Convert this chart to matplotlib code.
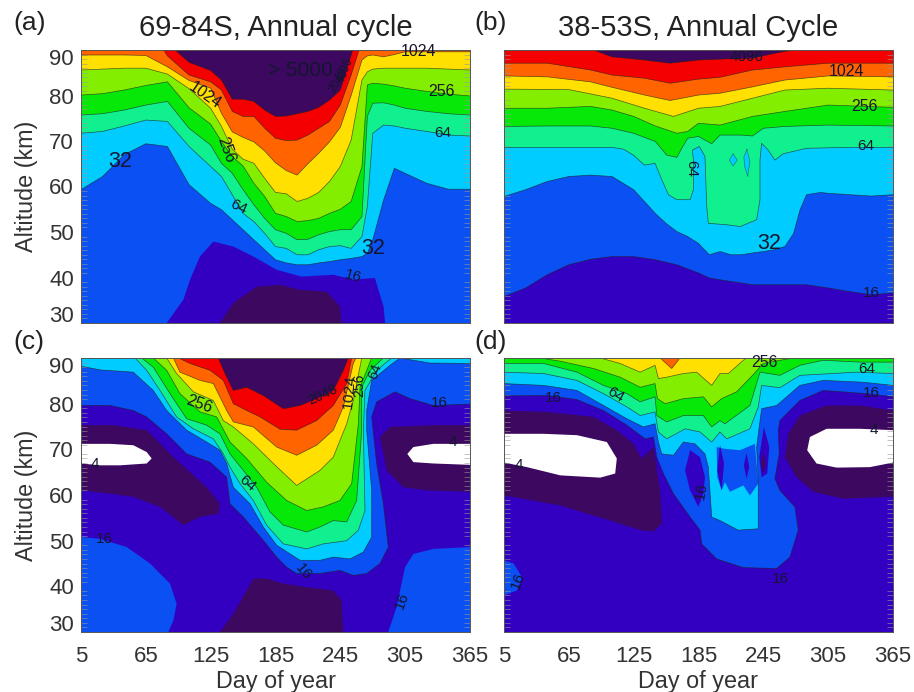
# -*- coding: utf-8 -*-
import matplotlib
matplotlib.use("Agg")
import matplotlib.pyplot as plt
from matplotlib.transforms import ScaledTranslation

plt.rcParams['font.family'] = ['Liberation Sans', 'DejaVu Sans']

# couleurs par tranche de valeur
PURPLE = "#3c0860"
INDIGO = "#3300c2"
BLUE = "#0a50f2"
CYAN = "#00ccff"
SPRING = "#10f08e"
GREEN = "#05e808"
LIME = "#84ee00"
YELLOW = "#ffe000"
ORANGE = "#ff6400"
RED = "#f40000"

DAY_TICKS = [5, 65, 125, 185, 245, 305, 365]
ALT_TICKS = [30, 40, 50, 60, 70, 80, 90]

# ------------------------ panel (a)
A_DAYS = [5, 25, 45, 65, 85, 105, 125, 135, 145, 155, 165, 175, 185, 195, 205, 215, 225, 235, 245, 255, 265, 270, 275, 285, 295, 305, 325, 345, 365]
a_32 = [59.3, 62.2, 67, 69.4, 68.8, 60.4, 56.3, 54.9, 52.7, 50.5, 48.3, 46.1, 43.9, 43.2, 42.8, 42.8, 43.2, 43.5, 43.9, 44.2, 44.6, 45.3, 48.3, 57, 64, 62.9, 60.7, 59.4, 59.4]
a_64 = [71.7, 72.1, 73.3, 74.6, 74.3, 68.8, 64.4, 62.2, 58.2, 54.1, 52.3, 49.7, 46.8, 46.4, 45, 45, 46.1, 46.8, 47, 46.4, 49, 55.6, 71.7, 73.5, 73.3, 72.8, 72.1, 71.3, 71.1]
a_128 = [75.7, 76, 76.8, 77.9, 78.7, 72.8, 69.1, 65.1, 62.9, 59.3, 56, 53, 50.5, 49.7, 48.3, 48.4, 49.4, 50.1, 50.5, 50.5, 53.4, 75.4, 78.3, 78.4, 77.9, 77.2, 76.5, 76, 75.7]
a_256 = [80.1, 80.4, 81.2, 82.2, 83, 77.3, 73.7, 69.9, 66.6, 64.5, 60.7, 57.8, 54.1, 53.4, 52.3, 52.5, 53, 54.1, 55, 56.7, 64.4, 82.3, 82.7, 82.5, 82.1, 81.6, 80.9, 80.3, 79.9]
a_512 = [85.6, 85.8, 86, 86, 84.7, 81.5, 77.2, 73.2, 68.2, 66, 65.1, 61.8, 58.7, 58.4, 56.7, 57.4, 58.7, 61.1, 64.4, 70.2, 83.4, 85.2, 85.8, 86, 86, 86, 86, 85.8, 85.6]
a_1024 = [88.9, 88.9, 88.9, 88.8, 86.3, 83.3, 81.6, 76.1, 72, 70.8, 69.8, 67.8, 65.2, 63.5, 62.5, 65, 67.3, 69.8, 73, 80, 87.8, 88.7, 88.9, 88.5, 89, 89.6, 89.6, 89.6, 89.6]
a_2048 = [96, 96, 96, 96, 88.7, 84.5, 83, 81.2, 76.5, 75.4, 75.4, 72.8, 70.6, 70.1, 70.2, 71.3, 72.8, 74.3, 77.9, 84.5, 92, 96, 96, 96, 96, 96, 96, 96, 96]
a_4096 = [96, 96, 96, 96, 91.5, 87.3, 85.5, 83.4, 79.2, 79.2, 78.7, 76.8, 75.4, 75.5, 76, 76.5, 77.4, 79, 81.2, 88.9, 96, 96, 96, 96, 96, 96, 96, 96, 96]
a_8_days = [84.3, 99.7, 105.9, 115, 127.5, 146, 164.5, 186, 209, 238.5, 257, 277, 285, 286.4]
a_8_alts = [30, 35.1, 39.5, 44.6, 47.9, 46.8, 44.6, 41.7, 40.2, 40.6, 39.5, 39.9, 33.6, 30]
a_low_days = [133.6, 146, 167.6, 189, 207.7, 232.4, 244.7, 246.2]
a_low_alts = [30, 34.4, 38, 38.4, 37.3, 36.9, 33.6, 30]

# ------------------------ panel (b)
b_16_days = [5, 25, 45, 65, 85, 105, 125, 145, 165, 185, 195, 205, 235, 285, 305, 325, 345, 365]
b_16_alts = [35.8, 37.7, 40.6, 42.8, 44, 44.6, 44.6, 43.9, 42.8, 41, 39.9, 39.5, 38.4, 38.4, 37.7, 36.9, 36.2, 36.6]
b_32_days = [5, 25, 45, 65, 85, 105, 125, 135, 145, 155, 165, 175, 185, 195, 205, 215, 225, 235, 245, 255, 265, 273, 279, 285, 298, 305, 325, 345, 365]
b_32_alts = [57.8, 59.3, 61.1, 62.2, 62.5, 62.2, 59.3, 56.7, 54.1, 51.9, 50.1, 49, 47.5, 45, 45.7, 45, 45, 45.4, 45.7, 46.1, 46.8, 49.7, 54.9, 58.2, 58.7, 58.5, 58.2, 57.9, 58.2]
b_64_days = [5, 25, 65, 105, 115.6, 124.8, 135, 144.8, 151, 157.2, 164.9, 177.2, 180.3, 180.3, 179.3, 185.8, 191, 192.6, 194.1, 211, 223.4, 238.8, 241.9, 241.9, 243.4, 249.6, 255.7, 263.4, 285, 325, 365]
b_64_alts = [68.6, 68.6, 68.6, 68.6, 68.2, 66.9, 64.7, 65.1, 61.5, 58.2, 57.1, 57.1, 59.3, 65.8, 68, 68.8, 66.6, 55.6, 51.9, 51.6, 51.2, 52.7, 57.1, 65.8, 69.5, 68, 65.8, 67.2, 68.4, 68.6, 68.6]
b_isle1_days = [217, 220.9, 217, 213.5]
b_isle1_alts = [67.2, 65.8, 64.5, 65.8]
b_isle2_days = [229.8, 232.6, 230.5, 227.6, 227]
b_isle2_alts = [68.2, 65.5, 62.2, 64.5, 66.5]
b_128_days = [5, 45, 85, 105, 125, 145, 155.6, 165, 169.5, 175, 185, 191, 197.2, 205, 225, 235, 245, 265, 305, 365]
b_128_alts = [73.2, 73.3, 73.3, 72.8, 71.7, 69.9, 66.9, 66.4, 68.4, 70.6, 71, 70.2, 69.4, 71.3, 71.3, 71.1, 72.8, 73.2, 73.5, 73.3]
b_256_days = [5, 45, 85, 105, 125, 145, 165, 175, 185, 205, 235, 265, 305, 365]
b_256_alts = [77.2, 77.2, 77.6, 76.8, 75.4, 73.3, 71.7, 72.1, 73.9, 73.5, 75.4, 76.5, 77.9, 77.4]
b_512_days = [5, 65, 105, 135, 161.8, 185, 205, 235, 265, 305, 365]
b_512_alts = [81.4, 81.3, 79.4, 77.2, 75.4, 77.2, 77.6, 79.4, 81.2, 81.6, 81.2]
b_1024_days = [5, 45, 85, 105, 135, 158.7, 185, 205, 235, 265, 305, 365]
b_1024_alts = [84.3, 84.1, 83, 81.8, 80.1, 78.9, 80.1, 80.5, 81.9, 83.4, 84.3, 84.1]
b_2048_days = [5, 45, 85, 105, 135, 158.7, 185, 205, 235, 265, 305, 365]
b_2048_alts = [87.1, 87.1, 85.6, 84.5, 83.8, 82.7, 83.6, 84, 85.6, 86.3, 87.1, 87.1]
b_4096_days = [88, 105, 135, 158.7, 185, 205, 235, 255.7, 272.7]
b_4096_alts = [90, 88.5, 87.8, 87.1, 87.8, 88, 88.2, 89.3, 90]

# ------------------------ panel (c)
c_blob1_days = [5, 22.6, 47.3, 68.9, 87.4, 93.5, 90.5, 85.8, 5]
c_blob1_alts = [50.8, 50.4, 48.6, 45, 40.6, 36.2, 32.5, 30, 30]
c_blob2_days = [289.4, 297.1, 304.9, 312.6, 331.1, 365, 365]
c_blob2_alts = [30, 35.5, 44.2, 47.1, 48.2, 48.6, 30]
c_low_days = [133.6, 146, 164.5, 176.8, 192.3, 213.9, 238.5, 246.2, 247.8]
c_low_alts = [30, 34, 41.7, 41.7, 40.6, 39.8, 39.1, 36.9, 30]
c_dark1_days = [5, 34.9, 65.8, 90.5, 121.3, 133.6, 132.1, 115.1, 99.7, 78.1, 53.4, 31.8, 5]
c_dark1_alts = [75.3, 75.3, 74.2, 68.3, 61.7, 58.1, 55.9, 55.2, 53.4, 57.4, 59.6, 60.3, 61]
c_white1_days = [5, 31.8, 53.4, 65.8, 70.4, 65.8, 41.1, 22.6, 5]
c_white1_alts = [71.2, 71.2, 70.9, 69.4, 68, 66.9, 66.5, 66.5, 66.9]
c_dark2_days = [365, 331.1, 291, 281.7, 287.9, 303.3, 324.9, 365]
c_dark2_alts = [75.3, 75.3, 74.9, 72.7, 65.4, 61.7, 61, 60.7]
c_white2_days = [365, 331.1, 312.6, 307, 312.6, 331.1, 365]
c_white2_alts = [71.2, 71.2, 70.5, 69, 67.2, 66.9, 66.6]
c_16_days = [5, 31.8, 53.4, 65.8, 84.3, 102.8, 124.4, 139.8, 142.9, 155.2, 173.7, 186.1, 195.3, 204.6, 226.2, 244.7, 257, 269.4, 281.7, 289.4, 284.8, 278.6, 274, 278.6, 295.6, 309.5, 331.1, 365]
c_16_alts = [79.6, 79.6, 78.5, 77.1, 73.4, 69, 67.2, 63.9, 58.1, 55.2, 50.1, 46.4, 44.2, 42.8, 42.8, 43.5, 42.4, 42.8, 45, 48.6, 58.1, 66.9, 77.1, 80.4, 82.6, 81.1, 79.6, 79.9]
c_32_days = [5, 22.6, 53.4, 71.9, 84.3, 102.8, 121.3, 133.6, 139.8, 146, 161.4, 173.7, 186.1, 207.7, 226.2, 238.5, 254, 266.3, 274, 274, 269.4, 269.4, 274, 291, 300.2, 328, 365]
c_32_alts = [88.2, 87.4, 86.9, 82.9, 78.5, 74.2, 71.6, 69.8, 66.9, 61.7, 58.1, 53, 49, 45.7, 45.7, 46.4, 46, 47.5, 50.8, 61, 74.2, 78.5, 85.1, 88.4, 90, 88.9, 88.8]
c_64_days = [55, 65.8, 78.1, 93.5, 109, 127.5, 136.7, 142.9, 152.2, 164.5, 176.8, 192.3, 213.9, 229.3, 250.9, 261.7, 267.8, 266.3, 267.8, 278.6, 292.5]
c_64_alts = [90, 87.3, 82.9, 77.1, 74.5, 72.3, 69, 66.1, 62.5, 58.8, 53.4, 49.3, 48.2, 49.3, 50, 52.3, 56.6, 74.2, 82.9, 87.3, 90]
c_128_days = [61.1, 71.9, 87.4, 102.8, 121.3, 133.6, 142.9, 155.2, 167.6, 179.9, 192.3, 213.9, 226.2, 238.5, 250.9, 260.1, 264.8, 264.8, 272.5, 284.8]
c_128_alts = [90, 88, 82.2, 76.7, 75.3, 73.4, 69, 65.4, 61.7, 56.3, 53.4, 51.9, 53, 54.4, 54.1, 58.8, 74.2, 83.6, 87.3, 90]
c_256_days = [71.9, 84.3, 96.6, 115.1, 130.6, 142.9, 158.3, 176.8, 195.3, 213.9, 229.3, 244.7, 255.5, 261.7, 263.2, 274]
c_256_alts = [90, 87.3, 82.2, 78.2, 77.1, 71.6, 68, 62.8, 58.8, 56.6, 57.4, 58.8, 62.5, 75.6, 83.6, 90]
c_512_days = [84.3, 93.5, 109, 127.5, 136.7, 146, 164.5, 183, 204.6, 226.2, 238.5, 250.9, 257, 264.8]
c_512_alts = [90, 86.6, 82.6, 80.7, 76.3, 74.9, 71.2, 66.9, 62.1, 65.4, 68.3, 75.6, 80.7, 90]
c_1024_days = [90.5, 96.6, 115.1, 127.5, 139.8, 146, 164.5, 186.1, 204.6, 223.1, 238.5, 247.8, 257, 259.5]
c_1024_alts = [90, 86.9, 85.1, 84.4, 78.5, 76, 74.9, 70.5, 68.7, 70.9, 74.2, 79.3, 88.8, 90]
c_2048_days = [95.1, 105.9, 124.4, 136.7, 146, 158.3, 170.7, 189.2, 204.6, 223.1, 238.5, 250.9, 255.5]
c_2048_alts = [90, 88.8, 87.3, 85.1, 80, 78.5, 77.1, 74.4, 74.2, 76.3, 79.6, 84.4, 90]
c_4096_days = [132.1, 138.3, 146, 158.3, 173.7, 192.3, 207.7, 223.1, 238.5, 247.8, 252.4]
c_4096_alts = [90, 86.6, 82.9, 83.6, 81.8, 78.9, 79.6, 81.1, 82.9, 87.3, 90]

# ------------------------ panel (d)
d_blob_days = [5, 13.9, 21.6, 17, 5]
d_blob_alts = [45.7, 45, 42, 39.1, 38]
d_dark1_days = [5, 44.7, 87.9, 109.4, 124.8, 132.5, 143.3, 149.5, 151, 143.3, 131, 103.3, 57.1, 5]
d_dark1_alts = [78.5, 78.2, 77.1, 74.2, 71.2, 68, 70.5, 61, 53.7, 52, 52.3, 54.4, 57.7, 59.9]
d_white1_days = [5, 41.7, 72.5, 100.2, 109.4, 107.9, 94, 57.1, 26.3, 5]
d_white1_alts = [73.4, 73.4, 73.1, 71.6, 68, 64.7, 63.8, 64.3, 66.1, 67.1]
d_dark2_days = [365, 334.3, 303.5, 278.8, 268, 265, 275.7, 291.1, 318.9, 365]
d_dark2_alts = [78.5, 79.6, 79.6, 77.4, 73.4, 68.3, 63.9, 60.7, 59.2, 59.6]
d_white2_days = [365, 334.3, 303.5, 288.1, 285.6, 294.2, 312.7, 343.5, 365]
d_white2_alts = [74.2, 74.5, 74.5, 72.7, 69.8, 66.9, 66, 66.1, 67.1]
d_16_days = [5, 44.7, 72.5, 97.1, 118.7, 135.6, 143.3, 146.4, 152.5, 161.8, 177.2, 186.4, 188, 201.8, 226.5, 257.3, 269.6, 277.3, 274.2, 260.3, 255.7, 259.7, 258.8, 260.3, 278.8, 300.4, 340.4, 365]
d_16_alts = [81.7, 81.8, 80.9, 78.5, 75.3, 72.3, 72.7, 68.3, 64.7, 60.3, 55.2, 52.3, 49.3, 46, 44.1, 43.9, 46.4, 52.3, 57.4, 61, 63.6, 69, 74.2, 76.3, 80.7, 82.9, 82.2, 81.5]
d_32_days = [5, 41.7, 72.5, 97.1, 118.7, 134, 144.8, 147.9, 151, 161.8, 171, 181.8, 191, 194.1, 197.2, 204.9, 221.8, 240.3, 240.3, 238.8, 243.4, 257.3, 278.8, 300.4, 337.3, 365]
d_32_alts = [84.4, 84, 82.9, 79.6, 76.7, 74.9, 75.6, 71.6, 69, 68.7, 71.6, 71.2, 69, 66.1, 55.2, 54.4, 52.3, 52.6, 62.5, 70.5, 78.9, 79.6, 84, 85.1, 84.7, 84]
d_pocket_days = [201.8, 209.5, 223.4, 237.2, 240.3, 232.6, 226.5, 214.1, 209.5, 206.4, 202.4]
d_pocket_alts = [70.5, 70.1, 69.8, 71.2, 62.5, 59.9, 62.1, 60.7, 62.8, 61, 63.9]
d_oval_days = [177.2, 186.4, 191, 189.5, 184.9, 177.2, 172.6]
d_oval_alts = [69.8, 68.3, 63.9, 60.3, 57.4, 61, 65.4]
d_spike1_days = [204.9, 208.6, 206.4, 202.4]
d_spike1_alts = [70.9, 66.9, 61, 65.4]
d_spike2_days = [229.5, 231.9, 229.5, 227]
d_spike2_alts = [69.2, 66.1, 63.6, 66.5]
d_spike3_days = [245.5, 250.5, 248.6, 243.4, 241.2]
d_spike3_alts = [74.9, 70.5, 64.7, 63.9, 68.3]
d_spike4_days = [245, 247.2, 244.9, 243]
d_spike4_alts = [69.4, 66.9, 64.7, 66.9]
d_64_days = [5, 41.7, 72.5, 97.1, 118.7, 131, 144.8, 147.9, 155.6, 172.6, 186.4, 197.2, 204.9, 211.1, 232.6, 240.3, 243.4, 260.3, 278.8, 331.2, 365]
d_64_alts = [86.9, 86.6, 85.1, 82.2, 79.3, 77.4, 78.2, 73.8, 72.3, 74.5, 73.8, 71.6, 73.8, 72.3, 74.5, 79.3, 84, 83.5, 86.2, 86.9, 86.6]
d_128_days = [5, 41.7, 72.5, 97.1, 118.7, 131, 144.8, 146.4, 155.6, 171, 189.5, 197.2, 204.9, 209.5, 232.6, 241.9, 260.3, 278.8, 300.4, 334.3, 365]
d_128_alts = [88.8, 88.8, 86.9, 84, 82.2, 80.4, 81.5, 77.4, 76, 77.4, 77.4, 74.9, 76.3, 75.6, 79.6, 86.9, 86.2, 88.4, 89.5, 89.1, 89.1]
d_256_days = [38.6, 57, 87.9, 112.5, 131, 144.8, 147, 154.1, 171, 189.5, 197.2, 206.4, 220.3, 235, 244.9, 260.3, 272.7]
d_256_alts = [90, 89.3, 87.7, 85.8, 83.6, 84.4, 81.1, 80, 81.1, 81.5, 79.3, 81.1, 82.6, 86.2, 88.8, 89.5, 90]
d_512_days = [94, 112.5, 131, 144.8, 147.9, 155.6, 171, 183.3, 197.2, 204.9, 212.6, 226.5, 229.5]
d_512_alts = [90, 88.8, 86.9, 88.4, 85.5, 85.8, 86.6, 86.9, 84, 86.6, 86.6, 89.5, 90]
d_1024_days = [149.5, 160.2, 167.9]
d_1024_alts = [90, 87.7, 90]

# libelles (texte, jour, altitude, rotation, taille)
a_labels = [("> 5000", 208, 85.6, 0, 15), ("1024", 317, 89.6, 0, 11.5), ("1024", 120, 80.1, -35, 11.5),
            ("2048", 243, 83.4, 60, 8.5), ("4096", 250, 85.5, 70, 8.5), ("256", 339, 80.8, 0, 11.5),
            ("256", 139, 68, -70, 11.5), ("64", 340, 71.7, 0, 11), ("64", 151, 55.6, -25, 11),
            ("32", 41, 65.6, 0, 15.5), ("32", 275.5, 46.4, 0, 15.5), ("16", 257, 40.2, -15, 11)]
b_labels = [("4096", 229.5, 88.5, 0, 11), ("1024", 322, 85.2, 0, 11.5), ("256", 339, 77.6, 0, 11.5),
            ("64", 340, 69, 0, 11), ("64", 178, 64, -90, 11), ("32", 250, 47.5, 0, 15.5),
            ("16", 345, 36.7, 0, 11)]
c_labels = [("256", 114, 79.9, -20, 11.5), ("64", 159, 62.6, -40, 11), ("16", 210.8, 43.1, -50, 11),
            ("16", 27, 50.3, 0, 11), ("16", 337, 80.1, 0, 11), ("16", 302, 36.9, 70, 11),
            ("4", 18, 66.7, 0, 11), ("4", 349, 71.6, 0, 11), ("1024", 253, 82.6, 85, 11),
            ("2048", 229, 82, 25, 10), ("256", 262.6, 84, 90, 10), ("64", 277, 87, 70, 10)]
d_labels = [("16", 51, 81.2, 0, 11), ("64", 108, 82, -30, 11), ("256", 246.5, 89, 0, 11.5),
            ("64", 341, 87.7, 0, 11), ("16", 345, 82.3, 0, 11), ("4", 347, 74.2, 0, 11),
            ("4", 18.5, 66.6, 0, 11), ("16", 188, 60.8, 80, 11), ("16", 261, 41.6, 0, 11),
            ("16", 17.6, 41.3, 70, 11)]


def new_axes(fig, x0, y0, x1, y1, background):
    W, H = 914.0, 692.0
    ax = fig.add_axes([x0/W, 1 - y1/H, (x1-x0)/W, (y1-y0)/H])
    ax.set_facecolor(background)
    ax.set_xlim(5, 365)
    ax.set_ylim(30, 90)
    ax.set_xticks(DAY_TICKS)
    ax.set_yticks(ALT_TICKS)
    ax.set_yticks(range(30, 91), minor=True)
    ax.tick_params(axis='x', length=0, labelsize=16, pad=10, labelbottom=False)
    ax.tick_params(axis='y', length=0, labelsize=16, pad=5, labelleft=False)
    ax.tick_params(axis='y', which='minor', direction='in', length=4, width=0.4, color="#999999", right=True)
    for s in ax.spines.values():
        s.set_linewidth(0.7)
        s.set_color("#555555")
    return ax


def above(ax, days, alts, color):
    """ remplit la zone au dessus de la courbe, jusqu'en haut du panneau """
    ax.fill(list(days) + [days[-1], days[0]], list(alts) + [97, 97], color=color, lw=0)
    ax.plot(days, alts, color="#202020", lw=0.5, alpha=0.7)


def blob(ax, days, alts, color, line=False):
    ax.fill(days, alts, color=color, lw=0)
    if line:
        ax.plot(list(days) + [days[0]], list(alts) + [alts[0]], color="#202020", lw=0.4, alpha=0.6)


def labels(ax, items):
    for txt, day, alt, rot, size in items:
        ax.text(day, alt, txt, fontsize=size, rotation=rot, ha='center', va='center',
                color="#151530", clip_on=False)


def axis_text(ax, letter, title=None, left=False, bottom=False):
    # la lettre est plus pres du panneau sur la ligne du bas
    ax.text(-0.175 if left else -0.075, 1.06 if bottom else 1.10, letter, transform=ax.transAxes,
            fontsize=19, color="#222222", va='center')
    if title:
        ax.text(0.5, 1.08, title, transform=ax.transAxes, fontsize=21, color="#222222",
                ha='center', va='center')
    if left:
        ax.tick_params(axis='y', labelleft=True, labelcolor="#333333")
        for lab, val in zip(ax.get_yticklabels(), ALT_TICKS):
            # les deux valeurs extremes sont ramenees vers l'interieur
            if val == 90:
                lab.set_verticalalignment('top')
                lab.set_transform(lab.get_transform() + ScaledTranslation(0, 1/72, fig.dpi_scale_trans))
            elif val == 30:
                lab.set_verticalalignment('bottom')
                lab.set_transform(lab.get_transform() + ScaledTranslation(0, -3/72, fig.dpi_scale_trans))
        ax.set_ylabel("Altitude (km)", fontsize=16.8, color="#333333", labelpad=8)
    if bottom:
        ax.tick_params(axis='x', labelbottom=True, labelcolor="#333333")
        ax.set_xlabel("Day of year", fontsize=16.8, color="#333333", labelpad=2)


fig = plt.figure(figsize=(9.14, 6.92), dpi=100)

# (a)
ax = new_axes(fig, 81, 50, 470, 323, BLUE)
blob(ax, a_8_days, a_8_alts, INDIGO)
blob(ax, a_low_days, a_low_alts, PURPLE)
for curve, col in [(a_32, CYAN), (a_64, SPRING), (a_128, GREEN), (a_256, LIME),
                   (a_512, YELLOW), (a_1024, ORANGE), (a_2048, RED), (a_4096, PURPLE)]:
    above(ax, A_DAYS, curve, col)
labels(ax, a_labels)
axis_text(ax, "(a)", "69-84S, Annual cycle", left=True)

# (b)
ax = new_axes(fig, 504, 50, 893, 323, INDIGO)
above(ax, b_16_days, b_16_alts, BLUE)
above(ax, b_32_days, b_32_alts, CYAN)
above(ax, b_64_days, b_64_alts, SPRING)
blob(ax, b_isle1_days, b_isle1_alts, CYAN, line=True)
blob(ax, b_isle2_days, b_isle2_alts, CYAN, line=True)
above(ax, b_128_days, b_128_alts, GREEN)
above(ax, b_256_days, b_256_alts, LIME)
above(ax, b_512_days, b_512_alts, YELLOW)
above(ax, b_1024_days, b_1024_alts, ORANGE)
above(ax, b_2048_days, b_2048_alts, RED)
above(ax, b_4096_days, b_4096_alts, PURPLE)
labels(ax, b_labels)
axis_text(ax, "(b)", "38-53S, Annual Cycle")

# (c)
ax = new_axes(fig, 81, 358, 470, 632, INDIGO)
blob(ax, c_blob1_days, c_blob1_alts, BLUE)
blob(ax, c_blob2_days, c_blob2_alts, BLUE)
blob(ax, c_low_days, c_low_alts, PURPLE)
blob(ax, c_dark1_days, c_dark1_alts, PURPLE)
blob(ax, c_white1_days, c_white1_alts, "white")
blob(ax, c_dark2_days, c_dark2_alts, PURPLE)
blob(ax, c_white2_days, c_white2_alts, "white")
above(ax, c_16_days, c_16_alts, BLUE)
above(ax, c_32_days, c_32_alts, CYAN)
above(ax, c_64_days, c_64_alts, SPRING)
above(ax, c_128_days, c_128_alts, GREEN)
above(ax, c_256_days, c_256_alts, LIME)
above(ax, c_512_days, c_512_alts, YELLOW)
above(ax, c_1024_days, c_1024_alts, ORANGE)
above(ax, c_2048_days, c_2048_alts, RED)
above(ax, c_4096_days, c_4096_alts, PURPLE)
labels(ax, c_labels)
axis_text(ax, "(c)", left=True, bottom=True)

# (d)
ax = new_axes(fig, 504, 358, 893, 632, INDIGO)
blob(ax, d_blob_days, d_blob_alts, BLUE)
blob(ax, d_dark1_days, d_dark1_alts, PURPLE)
blob(ax, d_white1_days, d_white1_alts, "white")
blob(ax, d_dark2_days, d_dark2_alts, PURPLE)
blob(ax, d_white2_days, d_white2_alts, "white")
above(ax, d_16_days, d_16_alts, BLUE)
blob(ax, d_oval_days, d_oval_alts, INDIGO)
blob(ax, d_spike3_days, d_spike3_alts, INDIGO)
blob(ax, d_spike4_days, d_spike4_alts, PURPLE)
above(ax, d_32_days, d_32_alts, CYAN)
blob(ax, d_pocket_days, d_pocket_alts, BLUE)
blob(ax, d_spike1_days, d_spike1_alts, INDIGO)
blob(ax, d_spike2_days, d_spike2_alts, INDIGO)
above(ax, d_64_days, d_64_alts, SPRING)
above(ax, d_128_days, d_128_alts, GREEN)
above(ax, d_256_days, d_256_alts, LIME)
above(ax, d_512_days, d_512_alts, YELLOW)
above(ax, d_1024_days, d_1024_alts, ORANGE)
labels(ax, d_labels)
axis_text(ax, "(d)", bottom=True)

fig.savefig("out.png", dpi=100)
